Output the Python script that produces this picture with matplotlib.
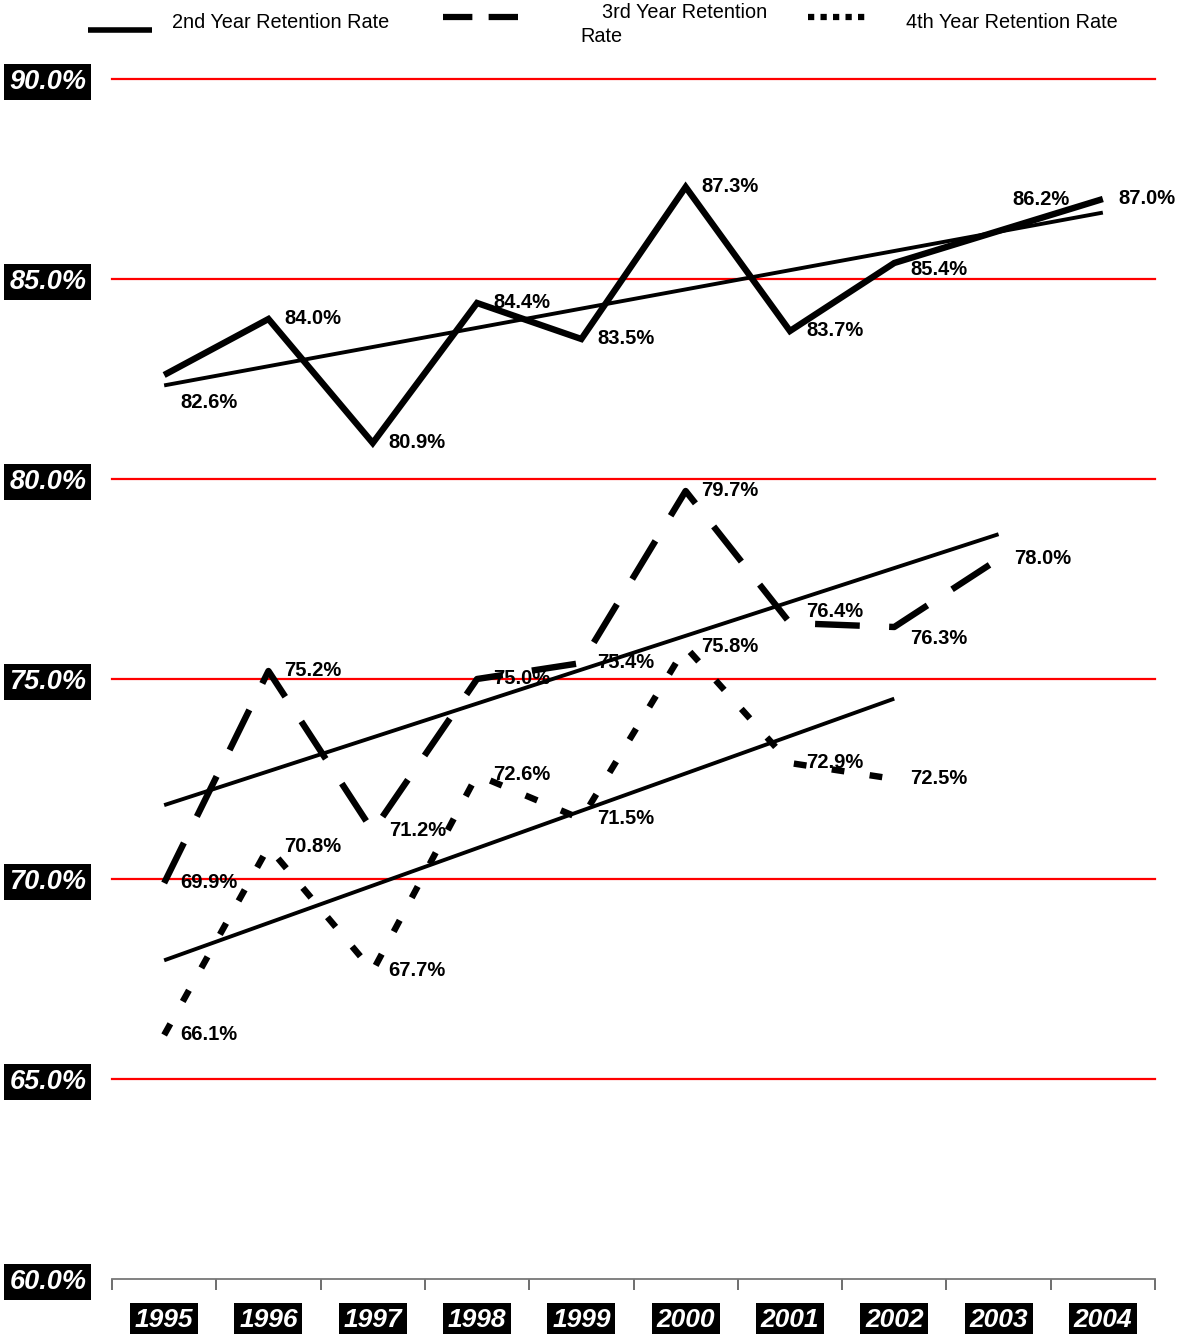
import numpy as np
import matplotlib
matplotlib.use("Agg")
import matplotlib.pyplot as plt
from matplotlib.lines import Line2D

plt.rcParams["font.family"] = ["Liberation Sans", "DejaVu Sans"]

years = ["1995", "1996", "1997", "1998", "1999", "2000", "2001", "2002", "2003", "2004"]
ret2 = [82.6, 84.0, 80.9, 84.4, 83.5, 87.3, 83.7, 85.4, 86.2, 87.0]
ret3 = [69.9, 75.2, 71.2, 75.0, 75.4, 79.7, 76.4, 76.3, 78.0]
ret4 = [66.1, 70.8, 67.7, 72.6, 71.5, 75.8, 72.9, 72.5]
yticks = [60, 65, 70, 75, 80, 85, 90]

# label nudges in points (dx, dy) where the default right-of-point spot collides
nudge2 = {0: (11.5, -19.5), 7: (11.5, -5), 8: (10, 23)}
nudge3 = {6: (11.5, 8.6), 7: (11.5, -8)}
nudge4 = {}

W, H = 1186, 1334
fig = plt.figure(figsize=(W / 100, H / 100), dpi=100)
ax = fig.add_axes([112 / W, 1 - 1279 / H, (1155 - 112) / W, (1279 - 79) / H])

ax.set_xlim(-0.5, len(years) - 0.5)
ax.set_ylim(60, 90)

for v in yticks[1:]:
    ax.axhline(v, color="#ff0000", lw=1.6, zorder=1, clip_on=False)

LW = 4.6
dash = (0, (7.0, 4.6))
dot = (0, (2.0, 4.0))


def series(vals, ls, nudge):
    x = np.arange(len(vals))
    ax.plot(x, vals, color="black", lw=LW, linestyle=ls, dash_capstyle="butt",
            solid_capstyle="butt", solid_joinstyle="miter", zorder=3)
    k, b = np.polyfit(x, vals, 1)
    ax.plot([x[0], x[-1]], [b, b + k * x[-1]], color="black", lw=2.8,
            solid_capstyle="butt", zorder=3)
    for i, v in enumerate(vals):
        dx, dy = nudge.get(i, (11.5, 0))
        ax.annotate(f"{v:.1f}%", (i, v), xytext=(dx, dy), textcoords="offset points",
                    ha="left", va="center", fontsize=14.5, fontweight="bold", zorder=4)


series(ret2, "-", nudge2)
series(ret3, dash, nudge3)
series(ret4, dot, nudge4)

for s in ["top", "right", "left"]:
    ax.spines[s].set_visible(False)
ax.spines["bottom"].set_color("#777777")
ax.spines["bottom"].set_linewidth(1.3)

ax.set_yticks(yticks)
ax.set_yticklabels([f"{v:.1f}%" for v in yticks])
ax.tick_params(axis="y", length=0, pad=18.5)

ax.set_xticks(np.arange(len(years) + 1) - 0.5)
ax.set_xticklabels([])
ax.tick_params(axis="x", which="major", direction="out", length=8, width=1.2, color="#555555")
ax.set_xticks(np.arange(len(years)), minor=True)
ax.set_xticklabels(years, minor=True)
ax.tick_params(axis="x", which="minor", length=0, pad=21)

for lab in ax.get_yticklabels() + ax.get_xticklabels(minor=True):
    lab.set_color("white")
    lab.set_fontweight("bold")
    lab.set_fontstyle("italic")
    lab.set_bbox(dict(facecolor="black", edgecolor="none", pad=1.8))
for lab in ax.get_yticklabels():
    lab.set_fontsize(19.5)
for lab in ax.get_xticklabels(minor=True):
    lab.set_fontsize(19)


def px(x, y):
    return x / W, 1 - y / H


# legend
fig.add_artist(Line2D(*zip(px(88, 30), px(152, 30)), transform=fig.transFigure,
                      color="black", lw=4, solid_capstyle="butt"))
fig.add_artist(Line2D(*zip(px(443, 17), px(525, 17)), transform=fig.transFigure,
                      color="black", lw=4.5, linestyle=(0, (4.7, 2.6, 4.7, 2.6, 1.0, 8)),
                      dash_capstyle="butt"))
fig.add_artist(Line2D(*zip(px(808, 17), px(870, 17)), transform=fig.transFigure,
                      color="black", lw=4.5, linestyle=(0, (1.0, 1.0)),
                      dash_capstyle="butt"))
fs = 14.3
fig.text(*px(172, 22), "2nd Year Retention Rate", fontsize=fs, va="center", ha="left")
fig.text(*px(602, 13), "3rd Year Retention", fontsize=fs, va="center", ha="left")
fig.text(*px(580, 36), "Rate", fontsize=fs, va="center", ha="left")
fig.text(*px(906, 22), "4th Year Retention Rate", fontsize=fs, va="center", ha="left")

fig.savefig("out.png", dpi=100, facecolor="white")
